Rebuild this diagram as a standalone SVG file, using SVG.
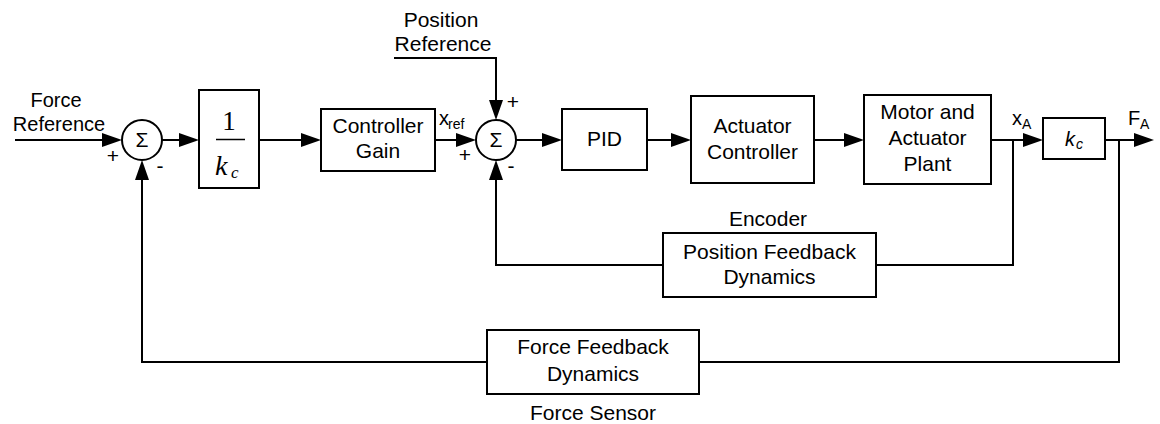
<svg xmlns="http://www.w3.org/2000/svg" width="1160" height="424" viewBox="0 0 1160 424">
<defs>
<marker id="arr" markerUnits="userSpaceOnUse" markerWidth="20" markerHeight="14" refX="16" refY="7" orient="auto">
<path d="M0,0 L20,7 L0,14 z" fill="#000"/>
</marker>
<style>
.blk{fill:#fff;stroke:#000;stroke-width:2}
.ln{fill:none;stroke:#000;stroke-width:2}
.t{font-family:"Liberation Sans",Arial,sans-serif;font-size:21px;fill:#000;text-anchor:middle}
.s{font-family:"Liberation Sans",Arial,sans-serif;font-size:14px;fill:#000}
.v{font-family:"Liberation Sans",Arial,sans-serif;font-size:20px;fill:#000}
.tm{font-family:"Liberation Serif","Times New Roman",serif;fill:#000}
</style>
</defs>
<rect width="1160" height="424" fill="#fff"/>
<g id="connectors">
<path class="ln" d="M15,140 H118" marker-end="url(#arr)"/>
<path class="ln" d="M162,140 H195" marker-end="url(#arr)"/>
<path class="ln" d="M259,140 H317" marker-end="url(#arr)"/>
<path class="ln" d="M435,140 H472" marker-end="url(#arr)"/>
<path class="ln" d="M394,58 H496 V116" marker-end="url(#arr)"/>
<path class="ln" d="M516,140 H558" marker-end="url(#arr)"/>
<path class="ln" d="M647,140 H687" marker-end="url(#arr)"/>
<path class="ln" d="M814,140 H860" marker-end="url(#arr)"/>
<path class="ln" d="M991,140 H1039" marker-end="url(#arr)"/>
<path class="ln" d="M1105,140 H1150" marker-end="url(#arr)"/>
<path class="ln" d="M1013,140 V265 H876"/>
<path class="ln" d="M663,265 H496 V164" marker-end="url(#arr)"/>
<path class="ln" d="M1119,140 V362 H699"/>
<path class="ln" d="M487,362 H142 V164" marker-end="url(#arr)"/>
</g>
<g id="force-ref">
<text class="v" x="56" y="107" text-anchor="middle">Force</text>
<text class="v" x="59" y="131" text-anchor="middle">Reference</text>
</g>
<g id="sum1">
<circle class="blk" cx="142" cy="140" r="20"/>
<text class="t" x="142" y="147">Σ</text>
<text class="t" x="113" y="163">+</text>
<text class="t" x="160" y="173">-</text>
</g>
<g id="inv-kc">
<rect class="blk" x="199" y="90" width="60" height="98"/>
<text class="tm" x="229" y="130" font-size="27" text-anchor="middle">1</text>
<line x1="216" y1="139.5" x2="245" y2="139.5" stroke="#000" stroke-width="1.5"/>
<text class="tm" x="215" y="175" font-size="28" font-style="italic">k</text>
<text class="tm" x="231" y="178" font-size="17" font-style="italic">c</text>
</g>
<g id="controller-gain">
<rect class="blk" x="321" y="109" width="114" height="62"/>
<text class="t" x="378" y="133">Controller</text>
<text class="t" x="378" y="158">Gain</text>
</g>
<g id="xref">
<text class="v" x="439" y="125">x</text>
<text class="s" x="448" y="129">ref</text>
</g>
<g id="pos-ref">
<text class="t" x="441" y="27">Position</text>
<text class="t" x="443" y="51">Reference</text>
</g>
<g id="sum2">
<circle class="blk" cx="496" cy="140" r="20"/>
<text class="t" x="496" y="147">Σ</text>
<text class="t" x="513" y="109">+</text>
<text class="t" x="465" y="162">+</text>
<text class="t" x="511" y="173">-</text>
</g>
<g id="pid">
<rect class="blk" x="562" y="109" width="85" height="61"/>
<text class="t" x="604.5" y="146">PID</text>
</g>
<g id="actuator-controller">
<rect class="blk" x="691" y="96" width="123" height="87"/>
<text class="t" x="752.5" y="133">Actuator</text>
<text class="t" x="752.5" y="159">Controller</text>
</g>
<g id="motor-plant">
<rect class="blk" x="864" y="95" width="127" height="89"/>
<text class="t" x="927.5" y="119">Motor and</text>
<text class="t" x="927.5" y="145">Actuator</text>
<text class="t" x="927.5" y="171">Plant</text>
</g>
<g id="xa">
<text class="v" x="1012" y="125">x</text>
<text class="s" x="1022" y="129">A</text>
</g>
<g id="kc">
<rect class="blk" x="1043" y="118" width="62" height="41"/>
<text class="v" x="1065" y="146" font-style="italic">k</text>
<text class="s" x="1076" y="149" font-style="italic">c</text>
</g>
<g id="fa">
<text class="v" x="1128" y="125">F</text>
<text class="s" x="1140" y="129">A</text>
</g>
<g id="position-feedback">
<text class="t" x="768" y="226">Encoder</text>
<rect class="blk" x="663" y="233" width="213" height="64"/>
<text class="t" x="769.5" y="259">Position Feedback</text>
<text class="t" x="769.5" y="284">Dynamics</text>
</g>
<g id="force-feedback">
<rect class="blk" x="487" y="330" width="212" height="64"/>
<text class="t" x="593" y="354">Force Feedback</text>
<text class="t" x="593" y="381">Dynamics</text>
<text class="t" x="593" y="420">Force Sensor</text>
</g>
</svg>
